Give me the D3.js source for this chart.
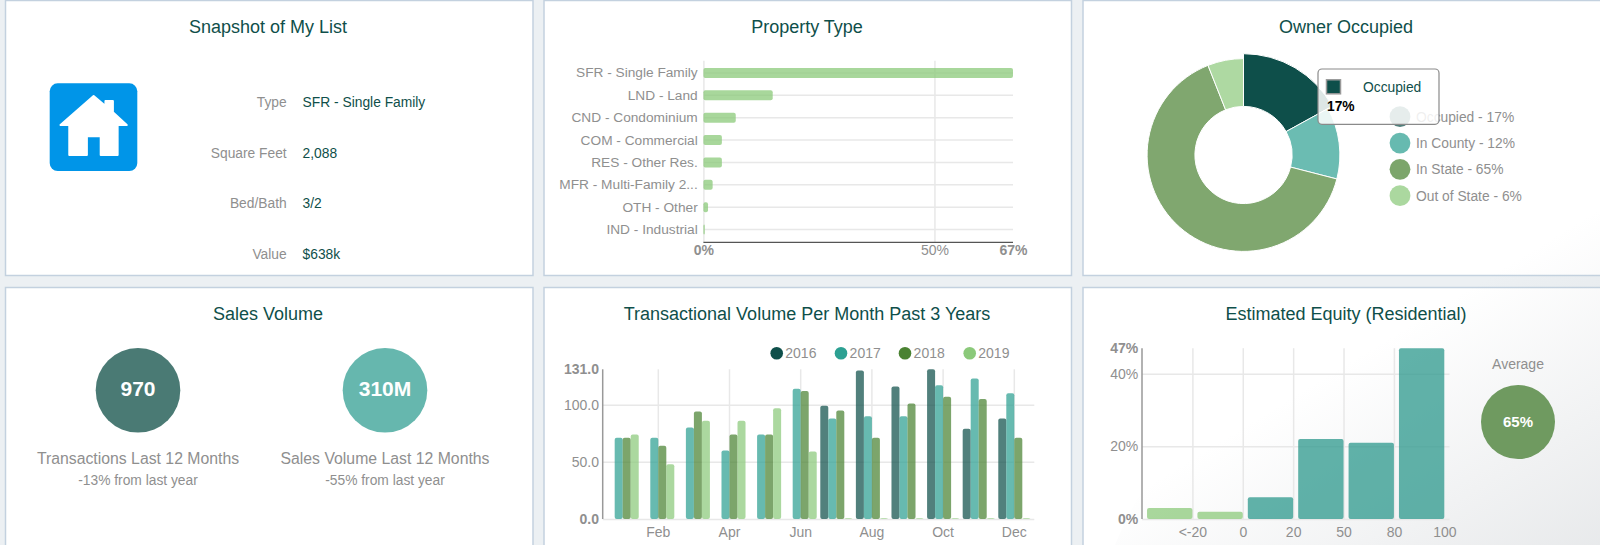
<!DOCTYPE html>
<html>
<head>
<meta charset="utf-8">
<script src="https://cdnjs.cloudflare.com/ajax/libs/d3/7.8.5/d3.min.js"></script>
<style>
    html, body { margin: 0; padding: 0; background: #ecf0f3; overflow: hidden; }
    svg { display: block; font-family: "Liberation Sans", Arial, sans-serif; }
    .grid line { stroke: #e8e8e8; stroke-width: 1.5; }
    .grid path { display: none; }
    .tick-label text { fill: #8f8f8f; font-size: 14px; }
    .tick-label line, .tick-label path { display: none; }
    .lbl { fill: #8f8f8f; }
    .title { fill: #0f4f4a; font-size: 18px; text-anchor: middle; }
</style>
</head>
<body>
<div id="chart"></div>
<script>
// Snapshot panel
const snapshotLabels = ["Type", "Square Feet", "Bed/Bath", "Value"];
const snapshotValues = ["SFR - Single Family", "2,088", "3/2", "$638k"];

// Property type bars
const propertyTypes = ["SFR - Single Family", "LND - Land", "CND - Condominium", "COM - Commercial",
    "RES - Other Res.", "MFR - Multi-Family 2...", "OTH - Other", "IND - Industrial"];
const propertyShares = [67, 15, 7, 4, 4, 2, 1, 0.3];
const propertyTicks = [0, 50, 67];

// Owner occupied donut
const ownerLabels = ["Occupied", "In County", "In State", "Out of State"];
const ownerShares = [17, 12, 65, 6];

// Sales volume
const salesFigures = ["970", "310M"];
const salesCaptions = ["Transactions Last 12 Months", "Sales Volume Last 12 Months"];
const salesChanges = ["-13% from last year", "-55% from last year"];

// Transactions per month
const months = ["Jan", "Feb", "Mar", "Apr", "May", "Jun", "Jul", "Aug", "Sep", "Oct", "Nov", "Dec"];
const monthTicks = ["Feb", "Apr", "Jun", "Aug", "Oct", "Dec"];
const years = ["2016", "2017", "2018", "2019"];
const volume2016 = [0, 0, 0, 0, 0, 0, 99, 130, 116, 131, 79, 88];
const volume2017 = [71, 71, 80, 60, 74, 114, 88, 90, 90, 117, 123, 110];
const volume2018 = [71, 64, 94, 74, 74, 112, 95, 71, 101, 107, 105, 71];
const volume2019 = [74, 48, 86, 86, 97, 59, 0.6, 0.6, 0.6, 0.6, 0.6, 0.6];
const volumeTicks = [0, 50, 100, 131];

// Estimated equity
const equityBins = ["<-20", "0", "20", "50", "80", "100"];
const equityShares = [3, 2, 6, 22, 21, 47];
const equityTicks = [0, 20, 40, 47];
const equityAverage = "65%";

const DARK = "#0e4f4a", TEAL = "#2ca092", GREEN = "#4a8232", LIGHT = "#8bc97a";
const yearColors = [DARK, TEAL, GREEN, LIGHT];

const svg = d3.select("#chart").append("svg")
    .attr("width", 1600)
    .attr("height", 545);

// Panels
const panels = [[5.5, 0.5, 527.5, 275], [544, 0.5, 527.5, 275], [1083, 0.5, 540, 275],
    [5.5, 287.5, 527.5, 280], [544, 287.5, 527.5, 280], [1083, 287.5, 540, 280]];
svg.selectAll(".panel")
    .data(panels)
    .join("rect")
    .attr("class", "panel")
    .attr("x", d => d[0]).attr("y", d => d[1])
    .attr("width", d => d[2]).attr("height", d => d[3])
    .attr("fill", "#fff")
    .attr("stroke", "#c3d1df")
    .attr("stroke-width", 1.5);

// Soft grey sweep in the bottom right corner
const defs = svg.append("defs");
const sweep = defs.append("linearGradient").attr("id", "sweep")
    .attr("gradientUnits", "userSpaceOnUse")
    .attr("x1", 1450).attr("y1", 300).attr("x2", 1600).attr("y2", 545);
sweep.append("stop").attr("offset", "0%").attr("stop-color", "#c8ccd0").attr("stop-opacity", 0);
sweep.append("stop").attr("offset", "100%").attr("stop-color", "#c8ccd0").attr("stop-opacity", 0.42);
svg.append("path")
    .attr("d", "M1115,545 C1170,410 1330,235 1600,175 L1600,545 Z")
    .attr("fill", "url(#sweep)");

// Titles
const titles = [["Snapshot of My List", 268, 32.5], ["Property Type", 807, 32.5], ["Owner Occupied", 1346, 32.5],
    ["Sales Volume", 268, 320], ["Transactional Volume Per Month Past 3 Years", 807, 320], ["Estimated Equity (Residential)", 1346, 320]];
svg.selectAll(".title")
    .data(titles)
    .join("text")
    .attr("class", "title")
    .attr("x", d => d[1]).attr("y", d => d[2])
    .text(d => d[0]);

function boldEnds(axisG, bold) {
    axisG.selectAll("text")
        .attr("font-weight", d => bold.includes(d) ? "bold" : "normal");
}

// ---- Snapshot of My List ----
const icon = svg.append("g").attr("transform", "translate(49.7,83.3)");
icon.append("rect")
    .attr("width", 87.6).attr("height", 87.7).attr("rx", 8)
    .attr("fill", "#0095e8");
icon.append("path")
    .attr("transform", "translate(-49.7,-83.3) scale(0.338,0.3333)")
    .attr("fill", "#fff")
    .attr("stroke", "#fff")
    .attr("stroke-width", 6)
    .attr("stroke-linejoin", "round")
    .attr("d", "M277,288 L312,318 L312,303 L334,303 L334,337 L375,375 L348,375 L348,465 L298,465 L298,409 L257,409 L257,465 L205,465 L205,375 L179,375 Z");

const rowY = d3.scalePoint().domain(snapshotLabels).range([107.3, 259]);
svg.selectAll(".snap-label")
    .data(snapshotLabels)
    .join("text")
    .attr("class", "lbl snap-label")
    .attr("x", 286.7).attr("y", d => rowY(d))
    .attr("text-anchor", "end")
    .attr("font-size", 13.8)
    .text(d => d);
svg.selectAll(".snap-value")
    .data(snapshotValues)
    .join("text")
    .attr("class", "snap-value")
    .attr("x", 302.6).attr("y", (d, i) => rowY(snapshotLabels[i]))
    .attr("font-size", 13.8)
    .attr("fill", "#0f4f4a")
    .text(d => d);

// ---- Property Type ----
const propX = d3.scaleLinear().domain([0, 67]).range([703.4, 1013]);
const propY = d3.scaleBand().domain(propertyTypes).range([61.8, 240.8]).paddingInner(0.553).paddingOuter(0.276);
const propG = svg.append("g");

propG.append("g").attr("class", "grid")
    .attr("transform", "translate(703.4,0)")
    .call(d3.axisLeft(propY).tickSize(-309.6).tickFormat(""));
propG.append("g").attr("class", "grid")
    .attr("transform", "translate(0,242.3)")
    .call(d3.axisTop(propX).tickValues([0, 50]).tickSize(181.6).tickFormat(""));
propG.append("line")
    .attr("x1", 703.4).attr("x2", 1013).attr("y1", 242.3).attr("y2", 242.3)
    .attr("stroke", "#555").attr("stroke-width", 1.2);

propG.selectAll(".prop-bar")
    .data(propertyTypes)
    .join("rect")
    .attr("class", "prop-bar")
    .attr("x", propX(0))
    .attr("y", d => propY(d))
    .attr("width", (d, i) => propX(propertyShares[i]) - propX(0))
    .attr("height", propY.bandwidth())
    .attr("rx", 2)
    .attr("fill", LIGHT)
    .attr("fill-opacity", 0.75);

const propLabels = propG.append("g").attr("class", "tick-label")
    .attr("transform", "translate(703.4,0)")
    .call(d3.axisLeft(propY).tickSize(0).tickPadding(5.7));
propLabels.selectAll("text").style("font-size", "13.7px");
const propAxis = propG.append("g").attr("class", "tick-label")
    .attr("transform", "translate(0,242)")
    .call(d3.axisBottom(propX).tickValues(propertyTicks).tickSize(0).tickPadding(3).tickFormat(d => d + "%"));
boldEnds(propAxis, [0, 67]);

// ---- Owner Occupied ----
const ownerColors = [DARK, TEAL, GREEN, LIGHT];
const ownerPie = d3.pie().sort(null)(ownerShares);
const arc = d3.arc().innerRadius(48.6).outerRadius(96.4);
const hoverArc = d3.arc().innerRadius(48.6).outerRadius(101.3);
const donut = svg.append("g").attr("transform", "translate(1243.5,155)");
donut.selectAll("path")
    .data(ownerPie)
    .join("path")
    .attr("d", (d, i) => i === 0 ? hoverArc(d) : arc(d))
    .attr("fill", (d, i) => ownerColors[i])
    .attr("fill-opacity", (d, i) => i === 0 ? 1 : 0.7)
    .attr("stroke", "#fff")
    .attr("stroke-width", 1);

const ownerY = d3.scalePoint().domain(ownerLabels).range([116.7, 195.7]);
svg.selectAll(".owner-dot")
    .data(ownerLabels)
    .join("circle")
    .attr("class", "owner-dot")
    .attr("cx", 1400).attr("cy", d => ownerY(d)).attr("r", 10.4)
    .attr("fill", (d, i) => ownerColors[i])
    .attr("fill-opacity", 0.72);
svg.selectAll(".owner-text")
    .data(ownerLabels)
    .join("text")
    .attr("class", "lbl owner-text")
    .attr("x", 1416).attr("y", d => ownerY(d) + 5)
    .attr("font-size", 13.8)
    .text((d, i) => `${d} - ${ownerShares[i]}%`);

// Tooltip left open over the first slice
const tip = svg.append("g");
tip.append("rect")
    .attr("x", 1318).attr("y", 69).attr("width", 121).attr("height", 55.3).attr("rx", 4)
    .attr("fill", "#fff").attr("fill-opacity", 0.86)
    .attr("stroke", "#8a8a8a").attr("stroke-width", 1.2);
tip.append("rect")
    .attr("x", 1326.5).attr("y", 79.8).attr("width", 14).attr("height", 14)
    .attr("fill", DARK).attr("stroke", "#999").attr("stroke-width", 1.5);
tip.append("text")
    .attr("x", 1363).attr("y", 91.5)
    .attr("font-size", 13.8).attr("fill", "#0f4f4a")
    .text(ownerLabels[0]);
tip.append("text")
    .attr("x", 1327).attr("y", 111)
    .attr("font-size", 13.8).attr("font-weight", "bold").attr("fill", "#000")
    .text(ownerShares[0] + "%");

// ---- Sales Volume ----
const salesX = d3.scalePoint().domain(salesFigures).range([138, 385]);
const salesColors = ["#4a7a74", "#66b7ae"];
svg.selectAll(".sales-dot")
    .data(salesFigures)
    .join("circle")
    .attr("class", "sales-dot")
    .attr("cx", d => salesX(d)).attr("cy", 390.3)
    .attr("r", 42.3)
    .attr("fill", (d, i) => salesColors[i]);
svg.selectAll(".sales-fig")
    .data(salesFigures)
    .join("text")
    .attr("class", "sales-fig")
    .attr("x", d => salesX(d)).attr("y", 395.7)
    .attr("text-anchor", "middle")
    .attr("font-size", 21).attr("font-weight", "bold").attr("fill", "#fff")
    .text(d => d);
svg.selectAll(".sales-cap")
    .data(salesCaptions)
    .join("text")
    .attr("class", "lbl sales-cap")
    .attr("x", (d, i) => salesX(salesFigures[i])).attr("y", 464)
    .attr("text-anchor", "middle")
    .attr("font-size", 15.8)
    .text(d => d);
svg.selectAll(".sales-change")
    .data(salesChanges)
    .join("text")
    .attr("class", "lbl sales-change")
    .attr("x", (d, i) => salesX(salesFigures[i])).attr("y", 485)
    .attr("text-anchor", "middle")
    .attr("font-size", 13.8)
    .text(d => d);

// ---- Transactional Volume ----
const monthX = d3.scaleBand().domain(months).range([604.9, 1032.1]).paddingInner(0.1).paddingOuter(0.05);
const yearX = d3.scaleBand().domain(years).range([0, monthX.bandwidth()]);
const volY = d3.scaleLinear().domain([0, 131]).range([519, 369.3]);
const volG = svg.append("g");

volG.append("g").attr("class", "grid")
    .attr("transform", "translate(602.7,0)")
    .call(d3.axisLeft(volY).tickValues([0, 50, 100]).tickSize(-431.6).tickFormat(""));
volG.append("g").attr("class", "grid")
    .attr("transform", "translate(0,519)")
    .call(d3.axisTop(monthX).tickValues(monthTicks).tickSize(149.7).tickFormat(""));
volG.append("line")
    .attr("x1", 602.7).attr("x2", 602.7).attr("y1", 369.3).attr("y2", 519)
    .attr("stroke", "#999").attr("stroke-width", 1.5);

[volume2016, volume2017, volume2018, volume2019].forEach((series, s) => {
    volG.selectAll(".bar-" + years[s])
        .data(months)
        .join("rect")
        .attr("class", "bar-" + years[s])
        .attr("x", d => monthX(d) + yearX(years[s]))
        .attr("y", (d, i) => volY(series[i]))
        .attr("width", yearX.bandwidth())
        .attr("height", (d, i) => volY(0) - volY(series[i]))
        .attr("rx", 2)
        .attr("fill", yearColors[s])
        .attr("fill-opacity", 0.72);
});

const volAxis = volG.append("g").attr("class", "tick-label")
    .attr("transform", "translate(602.7,0)")
    .call(d3.axisLeft(volY).tickValues(volumeTicks).tickSize(0).tickPadding(3.7).tickFormat(d => d.toFixed(1)));
boldEnds(volAxis, [0, 131]);
volG.append("g").attr("class", "tick-label")
    .attr("transform", "translate(0,523.7)")
    .call(d3.axisBottom(monthX).tickValues(monthTicks).tickSize(0).tickPadding(3));

const yearDotX = [776.7, 841, 905, 969.7];
const yearLegend = volG.selectAll(".year-key")
    .data(years)
    .join("g")
    .attr("class", "year-key")
    .attr("transform", (d, i) => `translate(${yearDotX[i]},353.3)`);
yearLegend.append("circle")
    .attr("r", 6.3)
    .attr("fill", (d, i) => yearColors[i]);
yearLegend.append("text")
    .attr("class", "lbl")
    .attr("x", 8.6).attr("y", 5)
    .attr("font-size", 14)
    .text(d => d);

// ---- Estimated Equity ----
const equityX = d3.scaleBand().domain(equityBins).range([1142, 1444.3])
    .paddingInner(0.1).paddingOuter(0.05).align(1);
const equityEdge = d3.scalePoint().domain(equityBins).range([1142 + equityX.step(), 1444.3]);
const equityY = d3.scaleLinear().domain([0, 47]).range([519, 348.2]);
const eqG = svg.append("g");

eqG.append("g").attr("class", "grid")
    .attr("transform", "translate(1142,0)")
    .call(d3.axisLeft(equityY).tickValues([0, 20, 40]).tickSize(-307.5).tickFormat(""));
eqG.append("g").attr("class", "grid")
    .attr("transform", "translate(0,519)")
    .call(d3.axisTop(equityEdge).tickValues(equityBins.slice(0, 5)).tickSize(170.8).tickFormat(""));
eqG.append("line")
    .attr("x1", 1142).attr("x2", 1142).attr("y1", 348.2).attr("y2", 519)
    .attr("stroke", "#999").attr("stroke-width", 1.5);

eqG.selectAll(".equity-bar")
    .data(equityBins)
    .join("rect")
    .attr("class", "equity-bar")
    .attr("x", d => equityX(d))
    .attr("y", (d, i) => equityY(equityShares[i]))
    .attr("width", equityX.bandwidth())
    .attr("height", (d, i) => equityY(0) - equityY(equityShares[i]))
    .attr("rx", 2)
    .attr("fill", (d, i) => i < 2 ? LIGHT : "#2a978b")
    .attr("fill-opacity", 0.74);

const eqAxis = eqG.append("g").attr("class", "tick-label")
    .attr("transform", "translate(1142,0)")
    .call(d3.axisLeft(equityY).tickValues(equityTicks).tickSize(0).tickPadding(3.7).tickFormat(d => d + "%"));
boldEnds(eqAxis, [0, 47]);
eqG.append("g").attr("class", "tick-label")
    .attr("transform", "translate(0,523.7)")
    .call(d3.axisBottom(equityEdge).tickSize(0).tickPadding(3));

svg.append("text")
    .attr("class", "lbl")
    .attr("x", 1518).attr("y", 369.3)
    .attr("text-anchor", "middle")
    .attr("font-size", 14)
    .text("Average");
svg.append("circle")
    .attr("cx", 1518).attr("cy", 422)
    .attr("r", 37)
    .attr("fill", "#6f9a60");
svg.append("text")
    .attr("x", 1518).attr("y", 427.2)
    .attr("text-anchor", "middle")
    .attr("font-size", 15).attr("font-weight", "bold").attr("fill", "#fff")
    .text(equityAverage);
</script>
</body>
</html>
